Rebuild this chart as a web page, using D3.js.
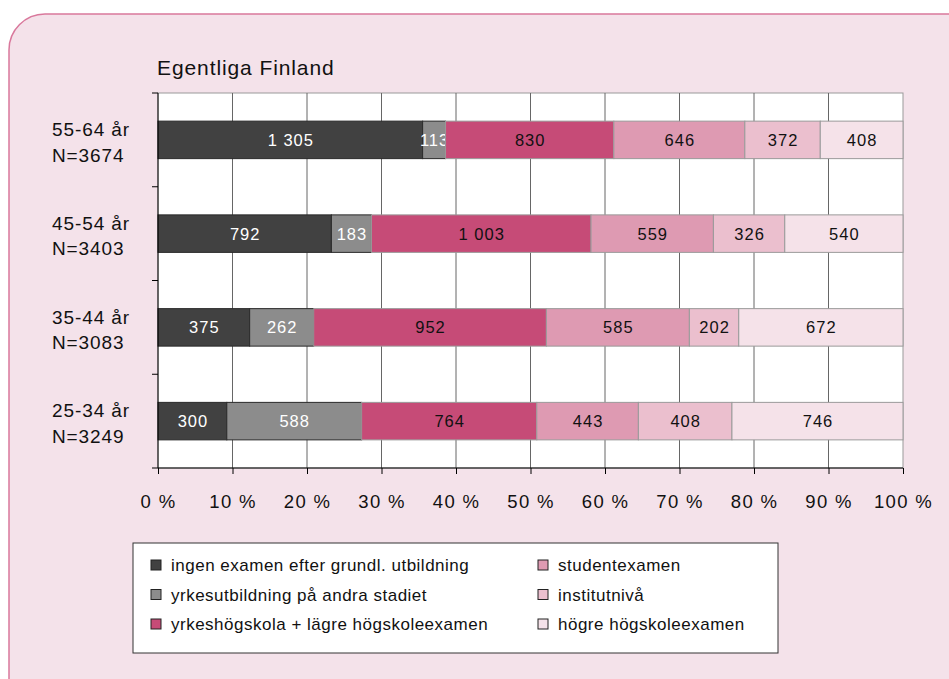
<!DOCTYPE html>
<html>
<head>
<meta charset="utf-8">
<script src="https://cdn.jsdelivr.net/npm/d3@7"></script>
<style>
  body { margin: 0; background: #fff; }
  svg { display: block; font-family: "Liberation Sans", Arial, sans-serif; }
</style>
</head>
<body>
<svg id="chart" width="949" height="679"></svg>
<script>
// data
var groups = ["55-64 år", "45-54 år", "35-44 år", "25-34 år"];
var groupN = ["N=3674", "N=3403", "N=3083", "N=3249"];
var series = [
  "ingen examen efter grundl. utbildning",
  "yrkesutbildning på andra stadiet",
  "yrkeshögskola + lägre högskoleexamen",
  "studentexamen",
  "institutnivå",
  "högre högskoleexamen"
];
var v5564 = [1305, 113, 830, 646, 372, 408];
var v4554 = [792, 183, 1003, 559, 326, 540];
var v3544 = [375, 262, 952, 585, 202, 672];
var v2534 = [300, 588, 764, 443, 408, 746];
var xTicks = [0, 0.1, 0.2, 0.3, 0.4, 0.5, 0.6, 0.7, 0.8, 0.9, 1];
var colors = ["#414141", "#8c8c8c", "#c64b77", "#de9ab2", "#ebbfce", "#f5e2e9"];
var strokes = ["#2a2a2a", "#2a2a2a", "#9a9a9a", "#9a9a9a", "#9a9a9a", "#9a9a9a"];
var textCol = ["#fff", "#fff", "#111", "#111", "#111", "#111"];

var allVals = [v5564, v4554, v3544, v2534];

var svg = d3.select("#chart");

// background panel
svg.append("rect")
  .attr("x", 9).attr("y", 14)
  .attr("width", 980).attr("height", 700)
  .attr("rx", 36).attr("ry", 36)
  .attr("fill", "#f4e2ea")
  .attr("stroke", "#d9789c")
  .attr("stroke-width", 1.5);

var margin = {top: 93, left: 158};
var width = 745;
var height = 375;

var g = svg.append("g")
  .attr("transform", `translate(${margin.left}, ${margin.top})`);

// table for stack
var table = groups.map(function(name, i) {
  var row = {group: name};
  series.forEach(function(s, j) { row[s] = allVals[i][j]; });
  return row;
});

var stacked = d3.stack().keys(series).offset(d3.stackOffsetExpand)(table);

var x = d3.scaleLinear().domain([0, 1]).range([0, width]);
var y = d3.scaleBand().domain(groups).range([0, height]).paddingInner(0.6).paddingOuter(0.3);
var yBand = d3.scaleBand().domain(groups).range([0, height]);

// plot area
g.append("rect")
  .attr("width", width).attr("height", height)
  .attr("fill", "#fff")
  .attr("stroke", "#999");

// gridlines
g.append("g")
  .selectAll("line")
  .data(xTicks.slice(1, -1))
  .join("line")
  .attr("x1", d => x(d)).attr("x2", d => x(d))
  .attr("y1", 0).attr("y2", height)
  .attr("stroke", "#666");

// bars
var layer = g.selectAll(".layer")
  .data(stacked)
  .join("g")
  .attr("class", "layer");

layer.selectAll("rect")
  .data((d, i) => d.map(p => ({p: p, i: i})))
  .join("rect")
  .attr("x", d => x(d.p[0]))
  .attr("y", d => y(d.p.data.group))
  .attr("width", d => x(d.p[1]) - x(d.p[0]))
  .attr("height", y.bandwidth())
  .attr("fill", d => colors[d.i])
  .attr("stroke", d => strokes[d.i])
  .attr("stroke-width", 1);

var fmt = function(v) { return d3.format(",")(v).replace(/,/g, " "); };

layer.selectAll("text")
  .data((d, i) => d.map(p => ({p: p, i: i, key: d.key})))
  .join("text")
  .attr("x", d => (x(d.p[0]) + x(d.p[1])) / 2 + 0.5)
  .attr("y", d => y(d.p.data.group) + y.bandwidth() / 2)
  .attr("dy", "0.36em")
  .attr("text-anchor", "middle")
  .attr("font-size", 16.5)
  .attr("letter-spacing", 1)
  .attr("fill", d => textCol[d.i])
  .text(d => fmt(d.p.data[d.key]));

// x axis
var xAxis = d3.axisBottom(x).tickValues(xTicks).tickSize(6)
  .tickFormat(d => Math.round(d * 100) + " %");
var xg = g.append("g")
  .attr("transform", `translate(0, ${height})`)
  .call(xAxis);
xg.select(".domain").attr("stroke", "#000").attr("d", `M-6,0H${width}`);
xg.selectAll(".tick line").attr("stroke", "#000");
xg.selectAll(".tick text")
  .attr("font-size", 18.5)
  .attr("letter-spacing", 1.3)
  .attr("font-family", "Liberation Sans, Arial, sans-serif")
  .attr("fill", "#111")
  .attr("dy", "1.7em");

// y axis (ticks at category boundaries)
var yg = g.append("g");
yg.append("line")
  .attr("x1", 0).attr("x2", 0).attr("y1", 0).attr("y2", height)
  .attr("stroke", "#000");
yg.selectAll(".ytick")
  .data(groups)
  .join("line")
  .attr("class", "ytick")
  .attr("x1", -6).attr("x2", 0)
  .attr("y1", d => yBand(d)).attr("y2", d => yBand(d))
  .attr("stroke", "#000");

var ylab = g.append("g").selectAll("text")
  .data(groups)
  .join("text")
  .attr("x", -106)
  .attr("y", d => yBand(d) + yBand.bandwidth() / 2)
  .attr("font-size", 19)
  .attr("letter-spacing", 0.9)
  .attr("fill", "#111");
ylab.append("tspan").attr("x", -106).attr("dy", "-0.2em").text(d => d);
ylab.append("tspan").attr("x", -106).attr("dy", "1.35em").text((d, i) => groupN[i]);

// title
svg.append("text")
  .attr("x", 157).attr("y", 75)
  .attr("font-size", 21)
  .attr("letter-spacing", 0.9)
  .attr("fill", "#111")
  .text("Egentliga Finland");

// legend
var lg = svg.append("g");
lg.append("rect")
  .attr("x", 133).attr("y", 543)
  .attr("width", 645).attr("height", 110)
  .attr("fill", "#fff")
  .attr("stroke", "#333");

var item = lg.selectAll(".item")
  .data(series)
  .join("g")
  .attr("class", "item")
  .attr("transform", (d, i) => `translate(${i < 3 ? 151 : 538}, ${565 + (i % 3) * 29.5})`);
item.append("rect")
  .attr("x", 0).attr("y", -5)
  .attr("width", 10).attr("height", 10)
  .attr("fill", (d, i) => colors[i])
  .attr("stroke", "#222");
item.append("text")
  .attr("x", 20).attr("dy", "0.36em")
  .attr("font-size", 17)
  .attr("letter-spacing", 0.5)
  .attr("fill", "#111")
  .text(d => d);
</script>
</body>
</html>
